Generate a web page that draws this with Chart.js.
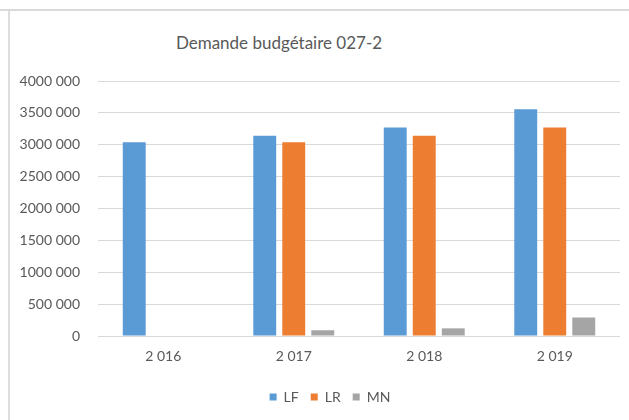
<!DOCTYPE html>
<html>
<head>
<meta charset="utf-8">
<script src="https://cdn.jsdelivr.net/npm/chart.js@4"></script>
<style>
  html, body { margin: 0; padding: 0; background: #fff; }
  body { width: 629px; height: 420px; position: relative; overflow: hidden; }
  #frameTop { position: absolute; left: 0; top: 9px; width: 629px; height: 2px; background: #d9d9d9; }
  #frameLeft { position: absolute; left: 8px; top: 11px; width: 2px; height: 409px; background: #dedede; }
  #title { position: absolute; left: 0; top: 28px; width: 558px; text-align: center;
           font-family: Lato, "Open Sans", sans-serif; font-weight: 400; font-size: 17px;
           color: #595959; line-height: 30px; }
  #wrap { position: absolute; left: 0; top: 0; width: 629px; height: 420px; }
</style>
</head>
<body>
<div id="frameTop"></div>
<div id="frameLeft"></div>
<div id="title">Demande budgétaire 027-2</div>
<div id="wrap"><canvas id="chart" width="629" height="420"></canvas></div>
<script>
// Years shown on the category axis
const categories = ['2 016', '2 017', '2 018', '2 019'];

// Budget requests per series
const seriesLF = [3040000, 3140000, 3270000, 3555000];
const seriesLR = [null, 3040000, 3140000, 3270000];
const seriesMN = [null, 90000, 120000, 290000];

// Value axis labels, from 0 up to 4 000 000
const yTickLabels = ['0', '500 000', '1000 000', '1500 000', '2000 000',
                     '2500 000', '3000 000', '3500 000', '4000 000'];

const textColor = '#595959';
const gridColor = '#d9d9d9';
const baseFont = { family: 'Lato, "Open Sans", sans-serif', size: 14 };

// Nudge the legend a little to the right of the centred position
const legendShift = {
  id: 'legendShift',
  afterLayout(chart) {
    if (chart.legend) {
      chart.legend.left += 11;
      chart.legend.right += 11;
    }
  }
};

new Chart(document.getElementById('chart'), {
  type: 'bar',
  data: {
    labels: categories,
    datasets: [
      { label: 'LF', data: seriesLF, backgroundColor: '#5B9BD5' },
      { label: 'LR', data: seriesLR, backgroundColor: '#ED7D31' },
      { label: 'MN', data: seriesMN, backgroundColor: '#A5A5A5' }
    ]
  },
  plugins: [legendShift],
  options: {
    responsive: false,
    animation: false,
    datasets: {
      bar: { categoryPercentage: 0.667, barPercentage: 0.79 }
    },
    layout: { padding: { left: 18, right: 9, top: 81, bottom: 6 } },
    plugins: {
      title: { display: false },
      tooltip: { enabled: false },
      legend: {
        position: 'bottom',
        labels: {
          boxWidth: 7,
          boxHeight: 7,
          padding: 12,
          color: textColor,
          font: baseFont
        }
      }
    },
    scales: {
      x: {
        afterFit(scale) { scale.height = 42; },
        grid: { display: false, drawTicks: false },
        border: { display: false },
        ticks: { color: textColor, font: baseFont, padding: 12 }
      },
      y: {
        min: 0,
        max: 4000000,
        afterFit(scale) { scale.width = 80; },
        grid: { color: gridColor, lineWidth: 1, drawTicks: false },
        border: { display: false },
        ticks: {
          stepSize: 500000,
          color: textColor,
          font: baseFont,
          padding: 18,
          callback(value, index) { return yTickLabels[index]; }
        }
      }
    }
  }
});
</script>
</body>
</html>
